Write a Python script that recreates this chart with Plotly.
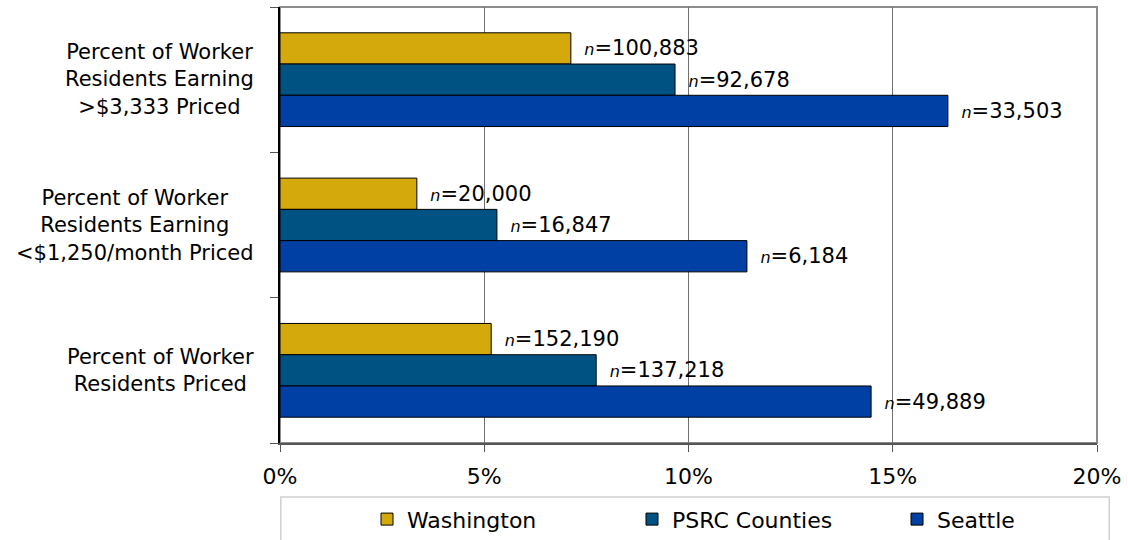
import plotly.graph_objects as go

categories = [">$3,333", "<$1,250", "All"]
category_labels = [
    "Percent of Worker<br>Residents Earning<br>&gt;$3,333 Priced",
    "Percent of Worker<br>Residents Earning<br>&lt;$1,250/month Priced",
    "Percent of Worker<br>Residents Priced",
]
series_names = ["Washington", "PSRC Counties", "Seattle"]
washington = [0.0712, 0.0335, 0.0517]
psrc = [0.0967, 0.0531, 0.0774]
seattle = [0.1635, 0.1143, 0.1447]
washington_n = ["100,883", "20,000", "152,190"]
psrc_n = ["92,678", "16,847", "137,218"]
seattle_n = ["33,503", "6,184", "49,889"]
colors = ["#D4A90B", "#005282", "#003FA3"]

FONT = "Century Gothic, URW Gothic, DejaVu Sans, sans-serif"

fig = go.Figure()
for name, vals, ns, col in zip(series_names, [washington, psrc, seattle],
                               [washington_n, psrc_n, seattle_n], colors):
    fig.add_trace(go.Bar(
        name=name, y=categories, x=vals, orientation="h",
        marker=dict(color=col, line=dict(color="black", width=1)),
        text=["\u2002<i><span style='font-size:16px'>n</span></i>=" + n for n in ns],
        textposition="outside", cliponaxis=False,
        textfont=dict(family=FONT, size=21, color="black"),
    ))

annotations = [
    dict(x=-0.029, xref="paper", y=c, yref="y", text=t, showarrow=False,
         xanchor="right", yanchor="middle", align="center",
         font=dict(family=FONT, size=21, color="black"))
    for c, t in zip(categories, category_labels)
]

fig.update_layout(
    width=1128, height=540,
    margin=dict(l=280, r=31, t=7, b=97, autoexpand=False),
    barmode="group", bargap=0.355, bargroupgap=0,
    plot_bgcolor="white", paper_bgcolor="white",
    font=dict(family=FONT, size=21, color="black"),
    xaxis=dict(range=[0, 0.20], dtick=0.05, tickformat=".0%",
               showgrid=True, gridcolor="#707070", gridwidth=1,
               zeroline=False, showline=True, linecolor="#555555", linewidth=2,
               ticks="outside", ticklen=7, tickcolor="#555555",
               ticklabelstandoff=6,
               tickfont=dict(size=22), automargin=False),
    yaxis=dict(autorange="reversed", tickvals=categories, ticktext=category_labels,
               showticklabels=False,
               tickson="boundaries", ticks="outside", ticklen=8, tickcolor="#555555",
               showline=True, linecolor="black", linewidth=2,
               showgrid=False, automargin=False),
    legend=dict(orientation="h", x=0.1065, xanchor="left", y=-0.175, yanchor="middle",
                entrywidth=220, entrywidthmode="pixels",
                font=dict(size=22), bgcolor="rgba(0,0,0,0)"),
    showlegend=True,
    annotations=annotations,
    shapes=[
        dict(type="rect", xref="paper", yref="paper", x0=0, x1=1, y0=0, y1=1,
             line=dict(color="#8c8c8c", width=2), layer="below"),
        dict(type="rect", xref="paper", yref="paper",
             x0=0.001, x1=1.015, y0=-0.124, y1=-0.26,
             line=dict(color="#d0d0d0", width=1.5), layer="below"),
    ],
)

fig.write_html("out.html", config={"displayModeBar": False},
               post_script="document.body.style.margin='0px';")
